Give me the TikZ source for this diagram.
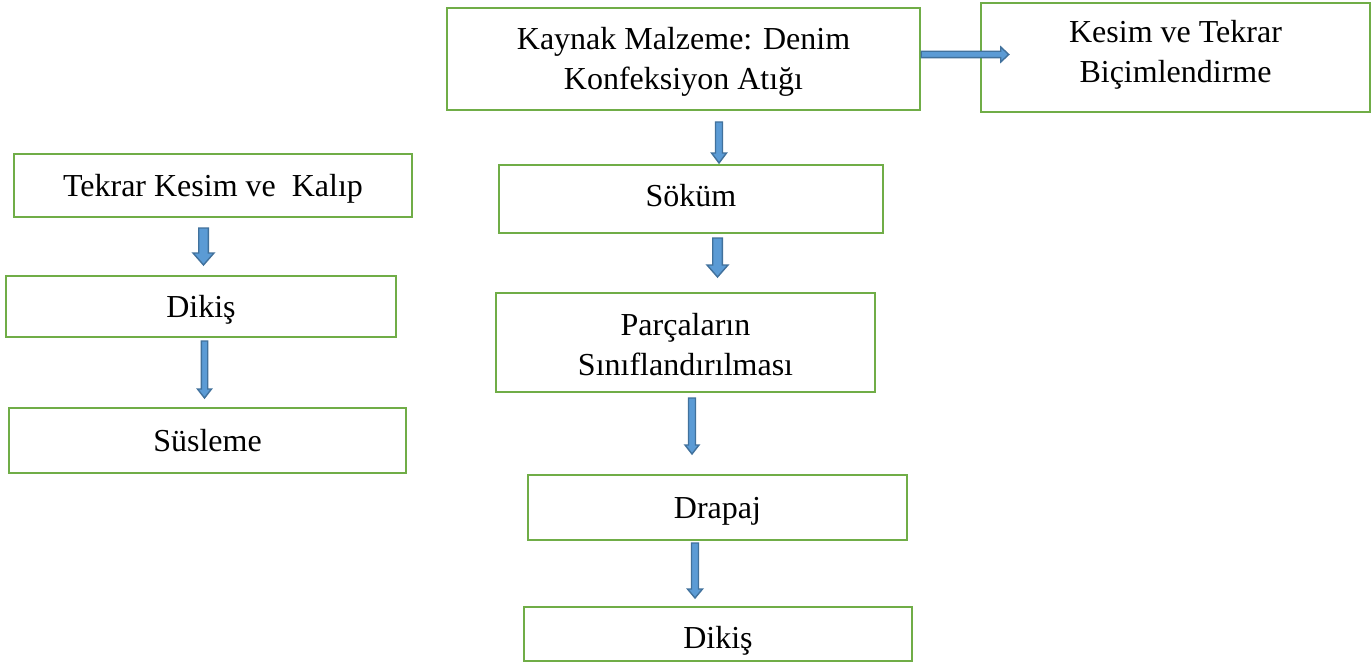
\documentclass[tikz,border=0pt]{standalone}
\usepackage{fontspec}
\setmainfont{Liberation Serif}
\usetikzlibrary{calc}
\definecolor{boxgreen}{HTML}{70AD47}
\definecolor{arrfill}{HTML}{5B9BD5}
\definecolor{arrline}{HTML}{41719C}
\newcommand\vblock[5]{%
  \filldraw[blockarrow] let \p1=(#1), \p2=(#2) in
    (\x1-#3pt,\y1) -- (\x1+#3pt,\y1) -- (\x1+#3pt,\y2+#5pt) -- (\x1+#4pt,\y2+#5pt)
    -- (\x1,\y2) -- (\x1-#4pt,\y2+#5pt) -- (\x1-#3pt,\y2+#5pt) -- cycle;}
\newcommand\hblock[5]{%
  \filldraw[blockarrow] let \p1=(#1), \p2=(#2) in
    (\x1,\y1+#3pt) -- (\x2-#5pt,\y1+#3pt) -- (\x2-#5pt,\y1+#4pt) -- (\x2,\y1)
    -- (\x2-#5pt,\y1-#4pt) -- (\x2-#5pt,\y1-#3pt) -- (\x1,\y1-#3pt) -- cycle;}
\begin{document}
\begin{tikzpicture}[x=1pt,y=-1pt,
  stepbox/.style={draw=boxgreen,line width=2.5pt,fill=white,inner sep=0pt,
    align=center,font=\fontsize{32}{40}\selectfont},
  oneline/.style={text height=28pt,text depth=7pt},
  blockarrow/.style={fill=arrfill,draw=arrline,line width=1.4pt,line join=miter}]
\useasboundingbox[fill=white] (0,0) rectangle (1372,666);
% boxes
\node[stepbox,minimum width=473pt,minimum height=102pt] (kaynak) at (683.5,59) {\rule{0pt}{28pt}Kaynak Malzeme: Denim\\Konfeksiyon Atığı};
\node[stepbox,minimum width=389pt,minimum height=109pt] (kesim) at (1175.5,57.5) {Kesim ve Tekrar\\Biçimlendirme\rule[-12pt]{0pt}{0pt}};
\node[stepbox,oneline,minimum width=398pt,minimum height=63pt] (tkk) at (213,185.5) {Tekrar Kesim ve~ Kalıp};
\node[stepbox,oneline,minimum width=390pt,minimum height=61pt] (dikisL) at (201,306.5) {Dikiş};
\node[stepbox,oneline,minimum width=397pt,minimum height=65pt] (susleme) at (207.5,440.5) {Süsleme};
\node[stepbox,oneline,text height=22pt,minimum width=384pt,minimum height=68pt] (sokum) at (691,199) {Söküm};
\node[stepbox,minimum width=379pt,minimum height=99pt] (parca) at (685.5,342.5) {\rule{0pt}{26pt}Parçaların\\Sınıflandırılması};
\node[stepbox,oneline,minimum width=379pt,minimum height=65pt] (drapaj) at (717.5,507.5) {Drapaj};
\node[stepbox,oneline,text height=36pt,minimum width=388pt,minimum height=54pt] (dikisB) at (718,634) {Dikiş};
% arrow end points
\coordinate (r1) at ($(kaynak.east)+(0,-4.5)$);
\coordinate (r2) at ($(kesim.west)+(29,-3)$);
\coordinate (d1s) at (719,122);   \coordinate (d1e) at (719,163);
\coordinate (d2s) at (717.5,238); \coordinate (d2e) at (717.5,277);
\coordinate (d3s) at (692,398);   \coordinate (d3e) at (692,454);
\coordinate (d4s) at (695,543);   \coordinate (d4e) at (695,598);
\coordinate (l1s) at (203.5,228); \coordinate (l1e) at (203.5,265);
\coordinate (l2s) at (204.5,341); \coordinate (l2e) at (204.5,398);
% arrows
\hblock{r1}{r2}{3.2}{7.5}{8}
\vblock{d1s}{d1e}{3.5}{7.5}{10}
\vblock{d2s}{d2e}{4.8}{10.5}{12}
\vblock{d3s}{d3e}{3.5}{7}{9}
\vblock{d4s}{d4e}{3.5}{7.5}{9}
\vblock{l1s}{l1e}{4.8}{10.5}{12}
\vblock{l2s}{l2e}{3.2}{7}{9}
\end{tikzpicture}
\end{document}
